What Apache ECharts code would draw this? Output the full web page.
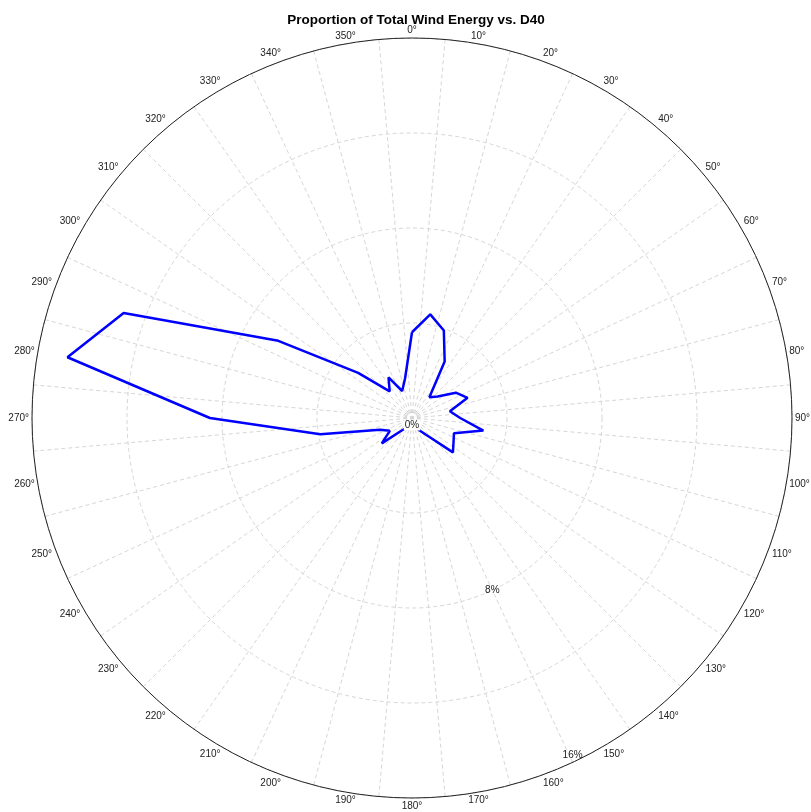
<!DOCTYPE html>
<html>
<head>
<meta charset="utf-8">
<script src="https://cdn.jsdelivr.net/npm/echarts@6/dist/echarts.min.js"></script>
<style>
  html, body { margin: 0; padding: 0; background: #fff; }
  #chart { width: 811px; height: 812px; }
</style>
</head>
<body>
<div id="chart"></div>
<script>
// Wind direction bins (degrees, clockwise from north)
const directions = [0, 10, 20, 30, 40, 50, 60, 70, 80, 90, 100, 110,
  120, 130, 140, 150, 160, 170, 180, 190, 200, 210, 220, 230,
  240, 250, 260, 270, 280, 290, 300, 310, 320, 330, 340, 350];

// Share of total wind energy per direction bin (%)
const energyShare = [3.61, 4.43, 3.92, 2.75, 1.14, 1.41, 2.13, 2.49, 1.62, 2.03, 3.05, 1.88,
  2.02, 2.25, 0.92, 0.58, 0.35, 0.30, 0.30, 0.30, 0.35, 0.49, 0.70, 1.66,
  1.08, 1.44, 3.92, 8.51, 14.73, 12.92, 6.50, 2.96, 1.46, 1.98, 1.21, 1.69];

// Radial scale (%)
const radialMax = 16;
const radialStep = 4;
const radialLabelValues = [0, 8, 16];

const CX = 412, CY = 418, R = 380;
const font = 'Liberation Sans, Arial, sans-serif';

// closed outline: repeat the first bin at 360°
const outline = directions.map((d, i) => [energyShare[i], d]);
outline.push([energyShare[0], 360]);

const chart = echarts.init(document.getElementById('chart'), null, { renderer: 'canvas' });

chart.setOption({
  animation: false,
  backgroundColor: '#ffffff',
  title: {
    text: 'Proportion of Total Wind Energy vs. D40',
    left: 411,
    top: 8,
    textAlign: 'center',
    textStyle: { fontFamily: font, fontSize: 13.5, fontWeight: 'bold', color: '#000' }
  },
  polar: [
    { center: [CX, CY], radius: R },
    { center: [CX, CY], radius: R },
    { center: [CX, CY], radius: R }
  ],
  angleAxis: [
    {
      // main axis: degree labels and outer circle
      polarIndex: 0,
      type: 'value', min: 0, max: 360, interval: 10,
      startAngle: 90, clockwise: true,
      axisLine: { show: true, lineStyle: { color: '#222', width: 1 } },
      axisTick: { show: false },
      splitLine: { show: false },
      axisLabel: {
        margin: 3,
        align: 'center',
        verticalAlign: 'middle',
        fontFamily: font, fontSize: 10, color: '#222',
        formatter: v => (v >= 360 ? '' : v + '°')
      }
    },
    {
      // dashed spokes, offset half a bin
      polarIndex: 1,
      type: 'value', min: 0, max: 360, interval: 10,
      startAngle: 85, clockwise: true,
      axisLine: { show: false },
      axisTick: { show: false },
      axisLabel: { show: false },
      splitLine: { show: true, lineStyle: { color: '#d6d6d6', width: 1, type: [4, 3] } }
    },
    {
      // carrier for the radial scale labels (pointing to 155°)
      polarIndex: 2,
      type: 'value', min: 0, max: 360,
      startAngle: 90 - 155, clockwise: true,
      axisLine: { show: false },
      axisTick: { show: false },
      axisLabel: { show: false },
      splitLine: { show: false }
    }
  ],
  radiusAxis: [
    {
      polarIndex: 0,
      type: 'value', min: 0, max: radialMax, interval: radialStep,
      axisLine: { show: false }, axisTick: { show: false },
      axisLabel: { show: false }, splitLine: { show: false }
    },
    {
      polarIndex: 1,
      type: 'value', min: 0, max: radialMax, interval: radialStep,
      axisLine: { show: false }, axisTick: { show: false },
      axisLabel: { show: false },
      splitLine: { show: true, lineStyle: { color: '#d6d6d6', width: 1, type: [4, 3] } }
    },
    {
      polarIndex: 2,
      type: 'value', min: 0, max: radialMax, interval: radialStep,
      axisLine: { show: false }, axisTick: { show: false },
      splitLine: { show: false },
      z: 10,
      axisLabel: {
        show: true,
        margin: 0,
        align: 'center',
        verticalAlign: 'middle',
        fontFamily: font, fontSize: 10, color: '#222',
        lineHeight: 14,
        formatter: v => {
          if (radialLabelValues.indexOf(v) < 0) return '';
          if (v === 0) return ' \n{c|' + v + '%}';
          if (v === radialMax) return '{t|' + v + '%}\n ';
          return '{t|' + v + '%}';
        },
        rich: {
          c: { fontFamily: font, fontSize: 10, color: '#222', backgroundColor: '#fff', padding: [1, 1, 0, 1] },
          t: { fontFamily: font, fontSize: 10, color: '#222' }
        }
      }
    }
  ],
  series: [
    {
      type: 'line',
      coordinateSystem: 'polar',
      polarIndex: 0,
      data: outline,
      symbol: 'none',
      smooth: false,
      z: 3,
      lineStyle: { color: '#0000ff', width: 2.5 }
    }
  ]
});
</script>
</body>
</html>
